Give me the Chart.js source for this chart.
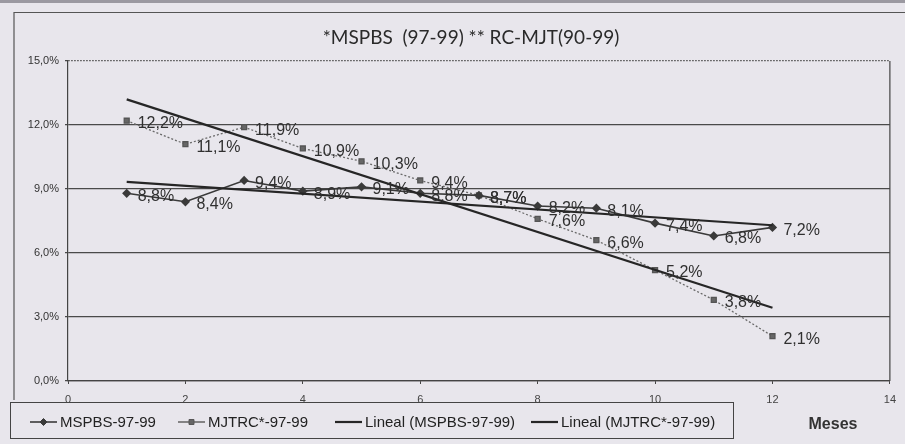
<!DOCTYPE html>
<html>
<head>
<meta charset="utf-8">
<script src="https://cdn.jsdelivr.net/npm/chart.js@4.4.0/dist/chart.umd.min.js"></script>
<style>
  html, body { margin: 0; padding: 0; background: #e8e6ec; }
  #wrap { width: 905px; height: 444px; position: relative; }
</style>
</head>
<body>
<div id="wrap"><canvas id="chart1"></canvas></div>
<script>
// datos
const months = [1, 2, 3, 4, 5, 6, 7, 8, 9, 10, 11, 12];
const mspbs = [8.8, 8.4, 9.4, 8.9, 9.1, 8.8, 8.7, 8.2, 8.1, 7.4, 6.8, 7.2];
const mjtrc = [12.2, 11.1, 11.9, 10.9, 10.3, 9.4, 8.7, 7.6, 6.6, 5.2, 3.8, 2.1];
const xTicks = [0, 2, 4, 6, 8, 10, 12, 14];
const yTicks = [0, 3, 6, 9, 12, 15];
const seriesNames = ['MSPBS-97-99', 'MJTRC*-97-99', 'Lineal (MSPBS-97-99)', 'Lineal (MJTRC*-97-99)'];
const chartTitle = '*MSPBS  (97-99) ** RC-MJT(90-99)';
const axisTitle = 'Meses';

const pct = v => v.toFixed(1).replace('.', ',') + '%';

// recta de regresión (tendencia lineal de Excel)
function linFit(xs, ys) {
  const n = xs.length;
  const mx = xs.reduce((a, b) => a + b) / n;
  const my = ys.reduce((a, b) => a + b) / n;
  let sxy = 0, sxx = 0;
  xs.forEach((x, i) => { sxy += (x - mx) * (ys[i] - my); sxx += (x - mx) * (x - mx); });
  const b = sxy / sxx;
  return [xs[0], xs[n - 1]].map(x => ({ x: x, y: my + b * (x - mx) }));
}

const pairs = (xs, ys) => xs.map((x, i) => ({ x: x, y: ys[i] }));

const paperPlugin = {
  id: 'paper',
  beforeDraw(chart) {
    const c = chart.ctx;
    c.save();
    c.fillStyle = '#e8e6ec';
    c.fillRect(0, 0, chart.width, chart.height);
    c.fillStyle = '#9b99a1';
    c.fillRect(0, 0, chart.width, 3);
    c.strokeStyle = '#555';
    c.lineWidth = 1.2;
    c.beginPath();
    c.moveTo(14, 400); c.lineTo(14, 12.5); c.lineTo(chart.width, 12.5);
    c.stroke();
    // título
    c.fillStyle = '#2a2a2a';
    c.font = '19px Lato, "Open Sans", sans-serif';
    c.textAlign = 'center';
    c.textBaseline = 'middle';
    c.fillText(chartTitle, 471, 38);
    c.restore();
  },
  afterDraw(chart) {
    const c = chart.ctx;
    const a = chart.chartArea;
    c.save();
    // borde derecho del área
    c.strokeStyle = '#444';
    c.lineWidth = 1.2;
    c.beginPath();
    c.moveTo(a.right, a.top); c.lineTo(a.right, a.bottom);
    c.stroke();
    // leyenda
    c.strokeStyle = '#444';
    c.lineWidth = 1;
    c.strokeRect(10.5, 402.5, 723, 36);
    const items = [
      { x: 30, ds: chart.data.datasets[0] },
      { x: 178, ds: chart.data.datasets[1] },
      { x: 335, ds: chart.data.datasets[2] },
      { x: 531, ds: chart.data.datasets[3] }
    ];
    const ly = 422;
    c.font = '15px "Liberation Sans", Arial, sans-serif';
    c.textBaseline = 'middle';
    c.textAlign = 'left';
    items.forEach(it => {
      const ds = it.ds;
      c.save();
      c.strokeStyle = ds.borderColor;
      c.lineWidth = Math.max(ds.borderWidth, 1.6);
      c.beginPath();
      c.moveTo(it.x, ly); c.lineTo(it.x + 27, ly);
      c.stroke();
      c.restore();
      if (ds.pointRadius > 0) {
        c.save();
        c.fillStyle = ds.pointBackgroundColor;
        c.strokeStyle = ds.pointBorderColor;
        Chart.helpers.drawPoint(c, { pointStyle: ds.pointStyle, radius: ds.pointRadius, borderWidth: 1, rotation: 0 }, it.x + 13.5, ly);
        c.restore();
      }
      c.fillStyle = '#222';
      c.fillText(ds.label, it.x + 30, ly + 1);
    });
    c.font = 'bold 16px "Liberation Sans", Arial, sans-serif';
    c.textAlign = 'center';
    c.fillStyle = '#333';
    c.fillText(axisTitle, 833, 425);
    c.restore();
  }
};

const labelPlugin = {
  id: 'pointLabels',
  afterDatasetsDraw(chart) {
    const c = chart.ctx;
    c.save();
    c.font = '16px "Liberation Sans", Arial, sans-serif';
    c.fillStyle = '#303030';
    c.textAlign = 'left';
    c.textBaseline = 'middle';
    [0, 1].forEach(i => {
      const meta = chart.getDatasetMeta(i);
      meta.data.forEach((pt, j) => {
        const v = chart.data.datasets[i].data[j].y;
        c.fillText(pct(v), pt.x + 11, pt.y + 3);
      });
    });
    c.restore();
  }
};

const ctx = document.getElementById('chart1').getContext('2d');
new Chart(ctx, {
  type: 'line',
  data: {
    datasets: [
      {
        label: seriesNames[0],
        data: pairs(months, mspbs),
        borderColor: '#3a3a3a',
        borderWidth: 1.6,
        pointStyle: 'rectRot',
        pointRadius: 3.5,
        pointBackgroundColor: '#3a3a3a',
        pointBorderColor: '#3a3a3a',
        order: 2
      },
      {
        label: seriesNames[1],
        data: pairs(months, mjtrc),
        borderColor: '#6a6a6a',
        borderWidth: 1.3,
        borderDash: [2, 2],
        pointStyle: 'rect',
        pointRadius: 3.5,
        pointBackgroundColor: '#666',
        pointBorderColor: '#555',
        order: 3
      },
      {
        label: seriesNames[2],
        data: linFit(months, mspbs),
        borderColor: '#262626',
        borderWidth: 2.2,
        pointRadius: 0,
        order: 1
      },
      {
        label: seriesNames[3],
        data: linFit(months, mjtrc),
        borderColor: '#262626',
        borderWidth: 2.2,
        pointRadius: 0,
        order: 0
      }
    ]
  },
  options: {
    responsive: true,
    maintainAspectRatio: false,
    animation: false,
    layout: { padding: { top: 61, right: 10, left: 0, bottom: 0 } },
    plugins: {
      legend: { display: false },
      title: { display: false },
      tooltip: { enabled: false }
    },
    scales: {
      x: {
        type: 'linear',
        min: 0,
        max: 14,
        afterBuildTicks: s => { s.ticks = xTicks.map(v => ({ value: v })); },
        afterFit: s => { s.height = 63; },
        grid: { drawOnChartArea: false, tickLength: 3, color: '#444' },
        border: { color: '#444', width: 1.2 },
        ticks: { padding: 9, color: '#444', font: { size: 11, family: '"Liberation Sans", Arial, sans-serif' } }
      },
      y: {
        min: 0,
        max: 15,
        afterBuildTicks: s => { s.ticks = yTicks.map(v => ({ value: v })); },
        afterFit: s => { s.width = 68; },
        grid: { color: '#4a4a4a', lineWidth: 1.2, tickLength: 3 },
        border: {
          color: '#444',
          width: 1.2,
          dash: c => (c.tick && c.tick.value === 15) ? [1.5, 1.5] : []
        },
        ticks: {
          padding: 6,
          color: '#333',
          font: { size: 11, family: '"Liberation Sans", Arial, sans-serif' },
          callback: v => pct(v)
        }
      }
    }
  },
  plugins: [paperPlugin, labelPlugin]
});
</script>
</body>
</html>
